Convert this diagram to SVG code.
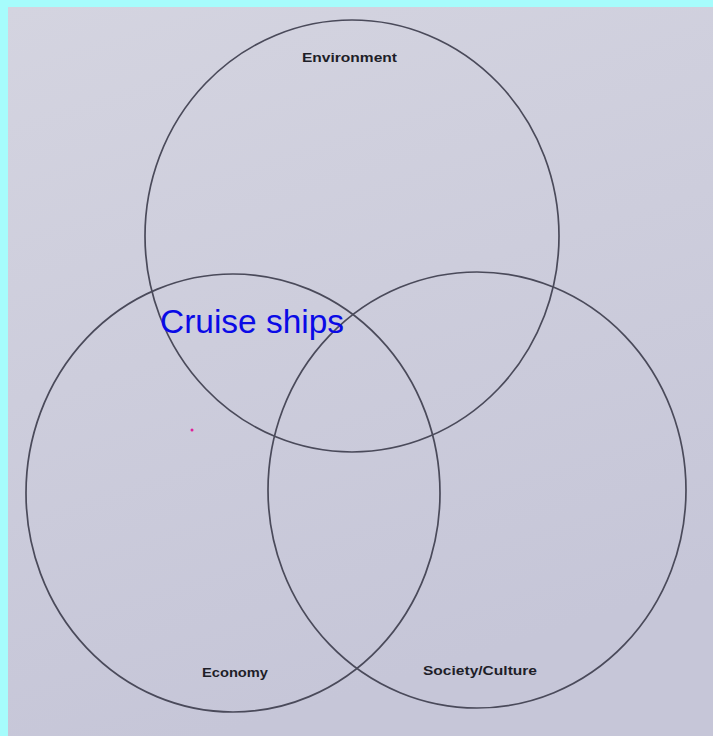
<svg xmlns="http://www.w3.org/2000/svg" width="713" height="736" viewBox="0 0 713 736">
<defs>
<linearGradient id="paper" x1="0" y1="0" x2="0.3" y2="1">
<stop offset="0" stop-color="#d4d4e0"/>
<stop offset="1" stop-color="#c6c6d8"/>
</linearGradient>
<style>
.c{fill:none;stroke:#4a4a5a;stroke-width:1.7}
.lbl{font-family:"Liberation Sans",Arial,sans-serif;font-weight:bold;font-size:13px;fill:#1e1e28}
.cr{font-family:"Liberation Sans",Arial,sans-serif;font-size:34px;fill:#0a0ae6}
</style>
</defs>
<rect width="713" height="736" fill="#a6fcfc"/>
<rect x="8" y="7" width="705" height="729" fill="url(#paper)"/>
<g id="environment">
<ellipse class="c" cx="352" cy="236" rx="207" ry="216"/>
<text class="lbl" x="302" y="62" textLength="95" lengthAdjust="spacingAndGlyphs">Environment</text>
</g>
<g id="economy">
<ellipse class="c" cx="233" cy="493" rx="207" ry="219"/>
<text class="lbl" x="202" y="677" textLength="66" lengthAdjust="spacingAndGlyphs">Economy</text>
</g>
<g id="society">
<ellipse class="c" cx="477" cy="490" rx="209" ry="218"/>
<text class="lbl" x="423" y="675" textLength="114" lengthAdjust="spacingAndGlyphs">Society/Culture</text>
</g>
<g id="cruise">
<text class="cr" x="160" y="333" textLength="184" lengthAdjust="spacingAndGlyphs">Cruise ships</text>
</g>
<circle cx="192" cy="430" r="1.5" fill="#e0209a"/>
</svg>
